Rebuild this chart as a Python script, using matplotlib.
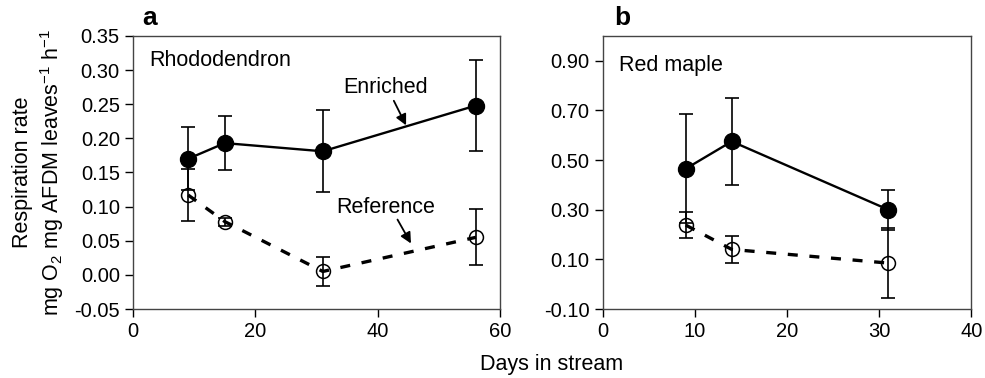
import matplotlib
matplotlib.use("Agg")
import matplotlib.pyplot as plt

plt.rcParams['font.family'] = ['Liberation Sans', 'DejaVu Sans']
plt.rcParams['font.size'] = 14
plt.rcParams['mathtext.fontset'] = 'custom'
plt.rcParams['mathtext.rm'] = 'Liberation Sans'

# Panel a: Rhododendron
days_a = [9, 15, 31, 56]
enriched_a = [0.170, 0.193, 0.181, 0.248]
enriched_a_err = [0.046, 0.040, 0.060, 0.067]
reference_a = [0.117, 0.078, 0.005, 0.055]
reference_a_err = [0.038, 0.006, 0.021, 0.041]

# Panel b: Red maple
days_b = [9, 14, 31]
enriched_b = [0.465, 0.575, 0.300]
enriched_b_err = [0.22, 0.175, 0.08]
reference_b = [0.238, 0.140, 0.085]
reference_b_err = [0.053, 0.055, 0.140]

yticks_a = [-0.05, 0.00, 0.05, 0.10, 0.15, 0.20, 0.25, 0.30, 0.35]
yticks_b = [-0.10, 0.10, 0.30, 0.50, 0.70, 0.90]

fig = plt.figure(figsize=(9.85, 3.78), dpi=100)
ax1 = fig.add_axes([0.135, 0.1825, 0.373, 0.7225])
ax2 = fig.add_axes([0.612, 0.1825, 0.374, 0.7225])

TXT = 15.5


def draw(ax, x, enr, enr_err, ref, ref_err):
    ax.errorbar(x, ref, yerr=ref_err, fmt='none', ecolor='black',
                elinewidth=1.2, capsize=5, capthick=1.2, zorder=2)
    ax.errorbar(x, enr, yerr=enr_err, fmt='none', ecolor='black',
                elinewidth=1.2, capsize=5, capthick=1.2, zorder=2)
    ax.plot(x, ref, color='black', lw=2.4, linestyle=(0, (3, 3.5)), zorder=3)
    ax.plot(x, ref, 'o', ms=10, mfc='none', mec='black', mew=1.1, zorder=4)
    ax.plot(x, enr, '-o', color='black', lw=1.7, ms=11.5, zorder=5)
    for s in ax.spines.values():
        s.set_color('#444444')
        s.set_linewidth(1.0)
    ax.tick_params(direction='out', length=6, width=1.0, labelsize=14.5,
                   top=False, right=False)


arrow = dict(arrowstyle='-|>', color='black', lw=1.3,
             mutation_scale=16, shrinkA=0, shrinkB=0)

draw(ax1, days_a, enriched_a, enriched_a_err, reference_a, reference_a_err)
ax1.set_xlim(0, 60)
ax1.set_ylim(-0.05, 0.35)
ax1.set_xticks([0, 20, 40, 60])
ax1.set_yticks(yticks_a)
ax1.set_yticklabels(['%.2f' % v for v in yticks_a])
ax1.text(0.045, 0.95, 'Rhododendron', transform=ax1.transAxes,
         ha='left', va='top', fontsize=TXT)
ax1.text(41.2, 0.274, 'Enriched', ha='center', va='center', fontsize=TXT)
ax1.annotate('', xy=(44.6, 0.219), xytext=(42.6, 0.255), arrowprops=arrow)
ax1.text(41.2, 0.098, 'Reference', ha='center', va='center', fontsize=TXT)
ax1.annotate('', xy=(45.4, 0.046), xytext=(43.2, 0.081), arrowprops=arrow)
ax1.set_ylabel('Respiration rate\nmg O$_2$ mg AFDM leaves$^{-1}$ h$^{-1}$',
               fontsize=TXT, labelpad=6, linespacing=1.25)
ax1.text(0.025, 1.02, 'a', transform=ax1.transAxes, fontsize=19,
         fontweight='bold', ha='left', va='bottom')

draw(ax2, days_b, enriched_b, enriched_b_err, reference_b, reference_b_err)
ax2.set_xlim(0, 40)
ax2.set_ylim(-0.10, 1.00)
ax2.set_xticks([0, 10, 20, 30, 40])
ax2.set_yticks(yticks_b)
ax2.set_yticklabels(['%.2f' % v for v in yticks_b])
ax2.text(0.045, 0.93, 'Red maple', transform=ax2.transAxes,
         ha='left', va='top', fontsize=TXT)
ax2.text(0.03, 1.02, 'b', transform=ax2.transAxes, fontsize=19,
         fontweight='bold', ha='left', va='bottom')

fig.text(0.56, 0.035, 'Days in stream', ha='center', va='center', fontsize=TXT)

fig.savefig('out.png', dpi=100)
